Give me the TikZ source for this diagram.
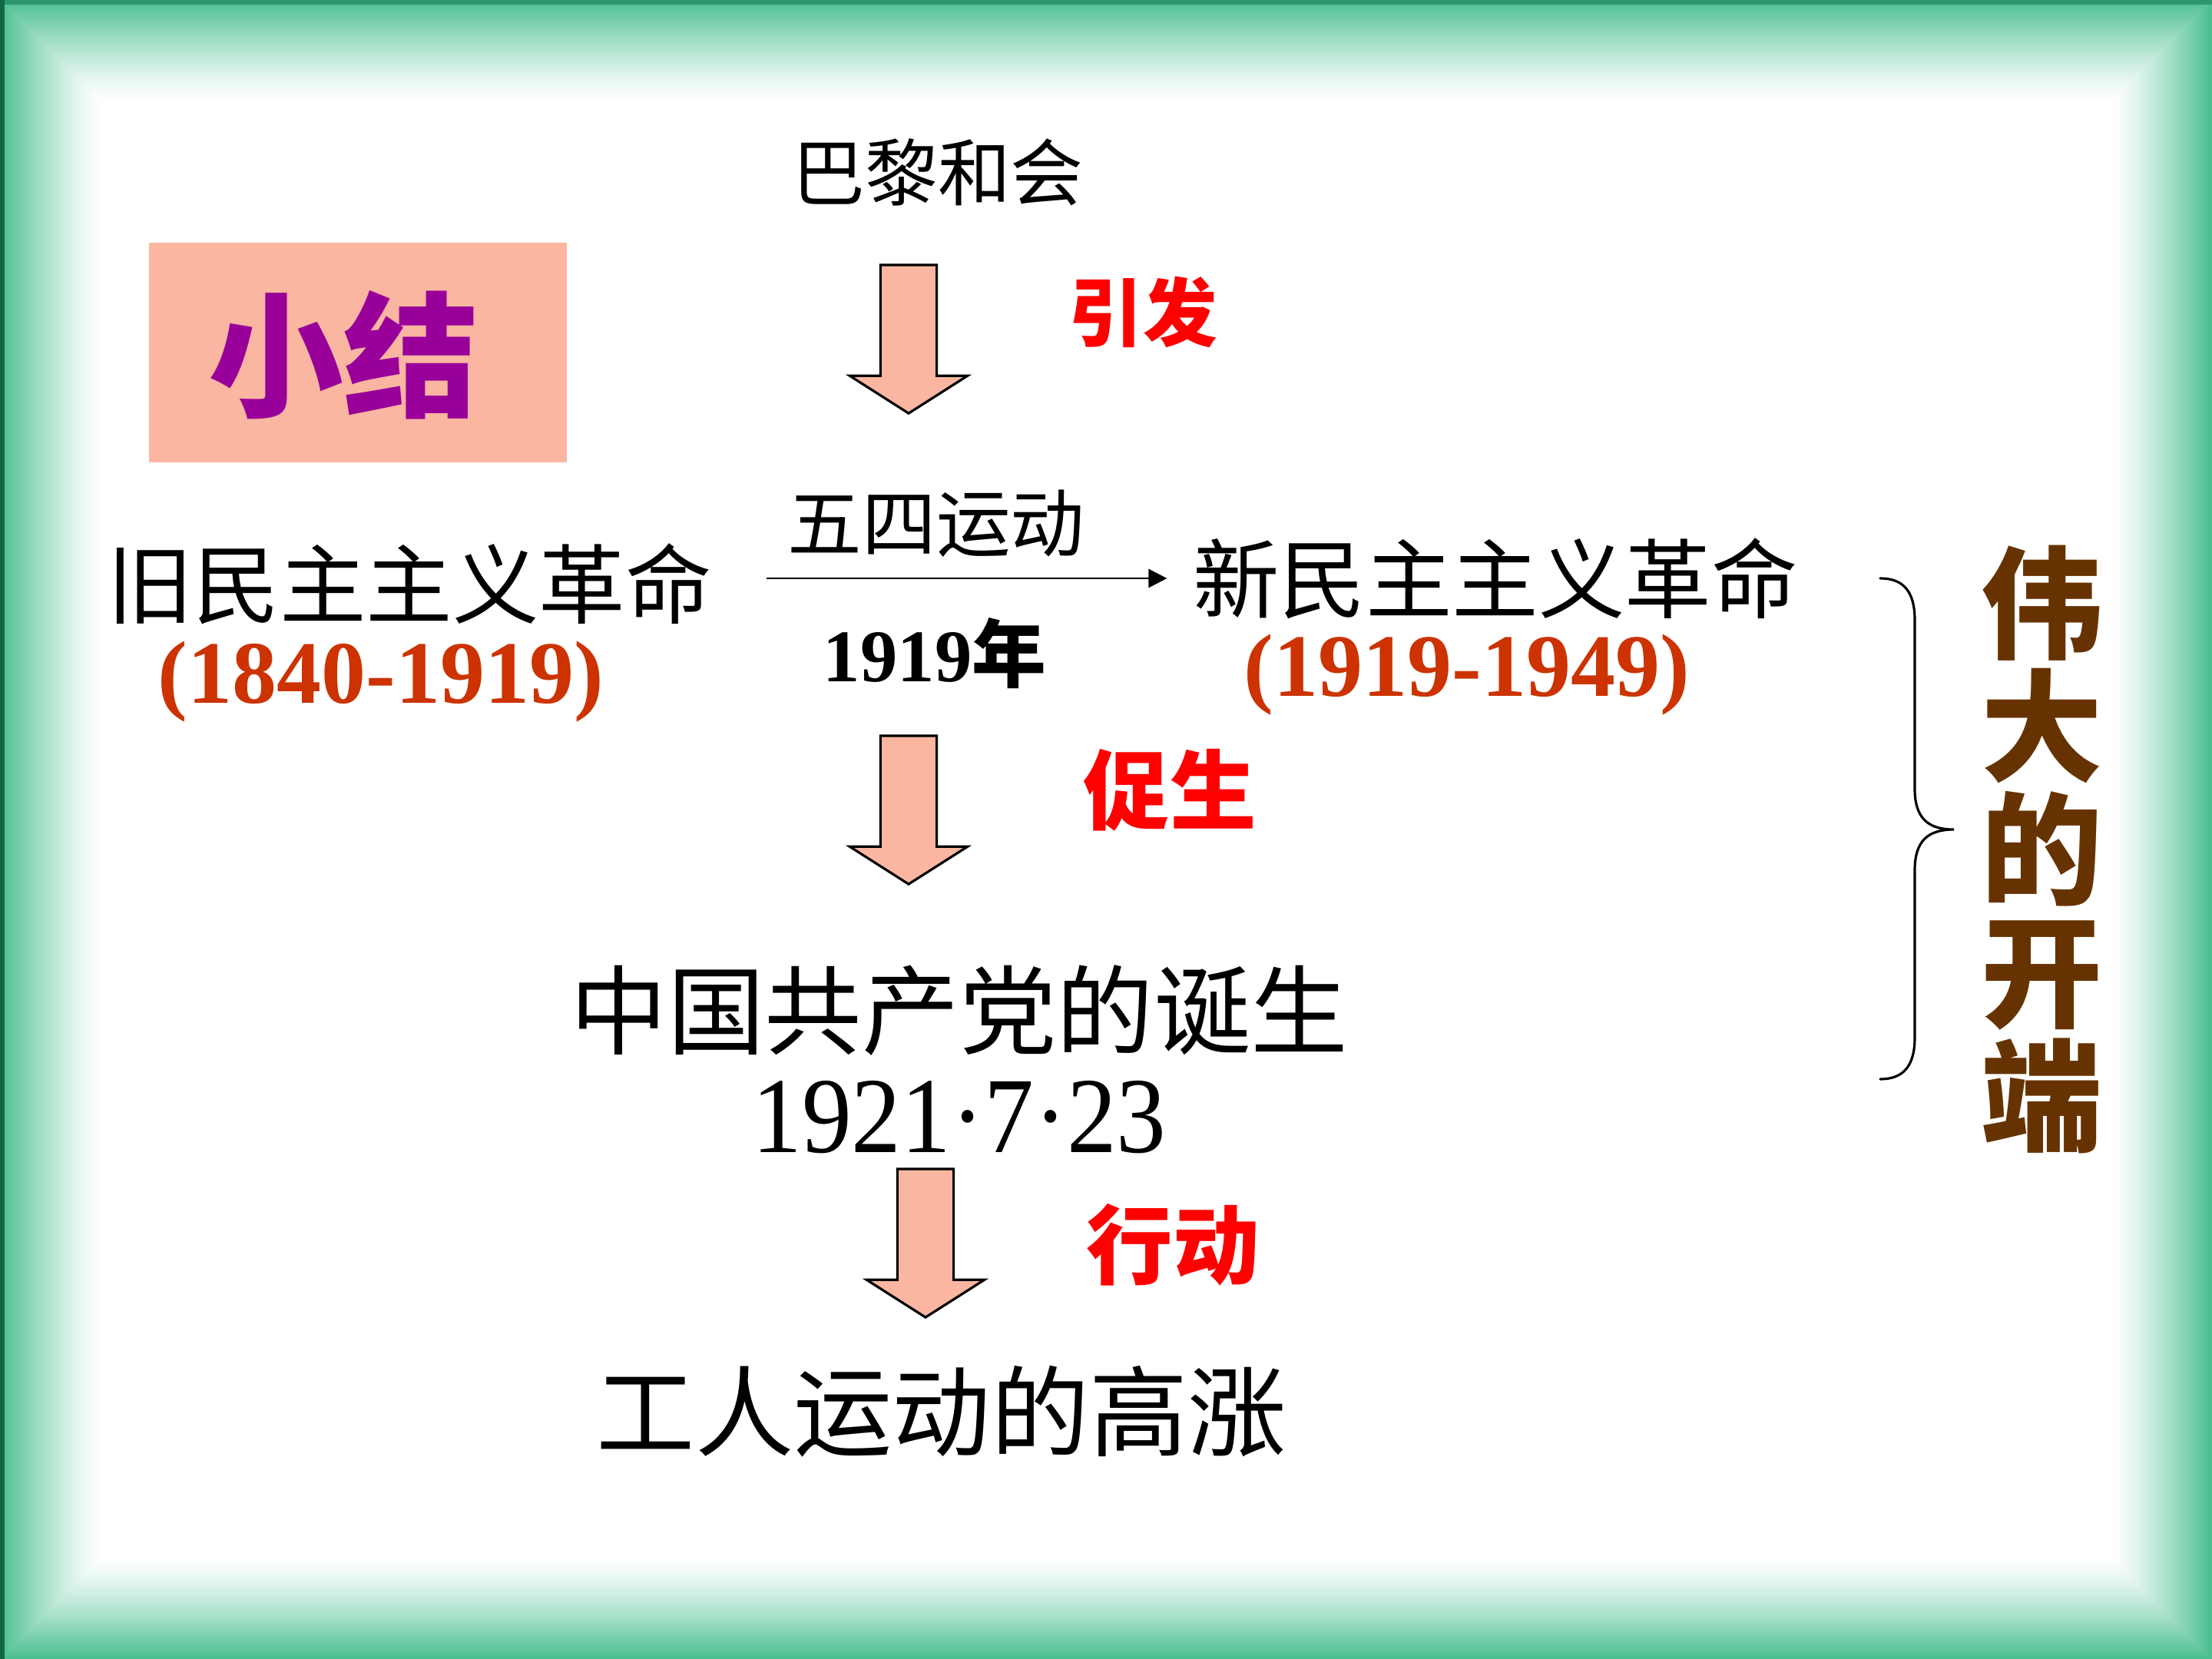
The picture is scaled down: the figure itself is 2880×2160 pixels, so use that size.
\documentclass[tikz,border=0pt]{standalone}
\usepackage{fontspec}
\setmainfont{Liberation Serif}
\newfontfamily\cjk{Noto Sans CJK SC}
\usepackage{tikz}
\usetikzlibrary{positioning,arrows.meta,shapes.arrows,calc}
\definecolor{edgegreen}{RGB}{77,192,146}
\definecolor{topline}{RGB}{45,150,110}
\definecolor{leftline}{RGB}{16,104,66}
\definecolor{arrowfill}{RGB}{250,182,160}
\definecolor{summaryfill}{RGB}{250,182,160}
\definecolor{summarycolor}{RGB}{153,0,153}
\definecolor{datecolor}{RGB}{204,51,0}
\definecolor{labelred}{RGB}{255,0,0}
\definecolor{openingcolor}{RGB}{102,51,0}
\tikzset{
    plain text/.style={inner sep=0pt, text=black},
    cause label/.style={inner sep=0pt, text=labelred},
    date text/.style={inner sep=0pt, text=datecolor},
    block arrow/.style={single arrow, draw=black, line width=0.9pt, fill=arrowfill,
        rotate=-90, anchor=tip, minimum height=1.93cm, inner xsep=0pt, inner ysep=0.35cm,
        single arrow head extend=0.4cm, single arrow tip angle=115},
    time arrow/.style={-{Triangle[length=0.24cm,width=0.24cm]}, line width=0.8pt},
    brace line/.style={line width=0.9pt, line cap=round}
}

\begin{document}
\begin{tikzpicture}[x=0.01cm, y=-0.01cm]
% green frame fading to white
\fill[edgegreen] (0,0) rectangle (2880,2160);
\foreach \i in {1,...,26}{
    \pgfmathsetmacro\pct{100*(1-\i/26)^1.3}
    \fill[edgegreen!\pct!white] (5*\i,5*\i) rectangle (2880-5*\i,2160-5*\i);
}
\fill[topline] (0,0) rectangle (2880,6);
\fill[leftline] (0,0) rectangle (6,2160);

% summary box
\node[fill=summaryfill, minimum width=5.43cm, minimum height=2.86cm, inner sep=0pt] (summary) at (466,459) {};
\node[inner sep=0pt, text=summarycolor, font={\cjk\bfseries\fontsize{50}{56}\selectfont}] (summarytitle) at (447,462) {小结};

% top: paris to may fourth
\node[plain text, font={\cjk\fontsize{27}{32}\selectfont}] (paris) at (1221,224) {巴黎和会};
\node[block arrow] (arrowA) at (1183,540) {};
\node[cause label, font={\cjk\bfseries\fontsize{27.5}{32}\selectfont}] (trigger) at (1488,406) {引发};
\node[plain text, font={\cjk\fontsize{27.5}{32}\selectfont}] (mayfourth) at (1219,682) {五四运动};
\node[plain text, font={\bfseries\fontsize{27.5}{32}\selectfont}] (mayyear) at (1217,851) {1919{\cjk 年}};

% old and new revolution
\node[plain text, font={\cjk\fontsize{32}{38}\selectfont}] (oldrev) at (533,760) {旧民主主义革命};
\node[date text, font={\bfseries\fontsize{33}{38}\selectfont}] (olddate) at (496,888) {(1840-1919)};
\node[plain text, font={\cjk\fontsize{32}{38}\selectfont}] (newrev) at (1947,753) {新民主主义革命};
\node[date text, font={\bfseries\fontsize{33}{38}\selectfont}] (newdate) at (1910,879) {(1919-1949)};
\draw[time arrow] ($(oldrev.east)+(70,-7)$) -- ($(newrev.west)+(-33,0)$);

% party founding
\node[block arrow] (arrowB) at (1183,1153) {};
\node[cause label, font={\cjk\bfseries\fontsize{32}{38}\selectfont}] (promote) at (1523,1029) {促生};
\node[plain text, font={\cjk\fontsize{36}{42}\selectfont}] (party) at (1249,1316) {中国共产党的诞生};
\node[plain text, xscale=0.92, font={\fontsize{40}{46}\selectfont}] (partydate) at (1249,1455) {1921·7·23};

% labour movement
\node[block arrow] (arrowC) at (1205,1717) {};
\node[cause label, font={\cjk\bfseries\fontsize{32}{38}\selectfont}] (action) at (1527,1621) {行动};
\node[plain text, font={\cjk\fontsize{36.5}{42}\selectfont}] (labour) at (1226,1838) {工人运动的高涨};

% brace and vertical title
\draw[brace line] (2448,753) .. controls (2478,753) and (2493,770) .. (2493,807) -- (2493,1027)
    .. controls (2493,1065) and (2510,1080) .. (2544,1080)
    .. controls (2510,1080) and (2493,1095) .. (2493,1133) -- (2493,1351)
    .. controls (2493,1388) and (2478,1405) .. (2448,1405);
\node[inner sep=0pt, text=openingcolor, align=center, font={\cjk\bfseries\fontsize{45}{45.5}\selectfont}] (opening) at (2659,1106) {伟\\大\\的\\开\\端};
\end{tikzpicture}
\end{document}
